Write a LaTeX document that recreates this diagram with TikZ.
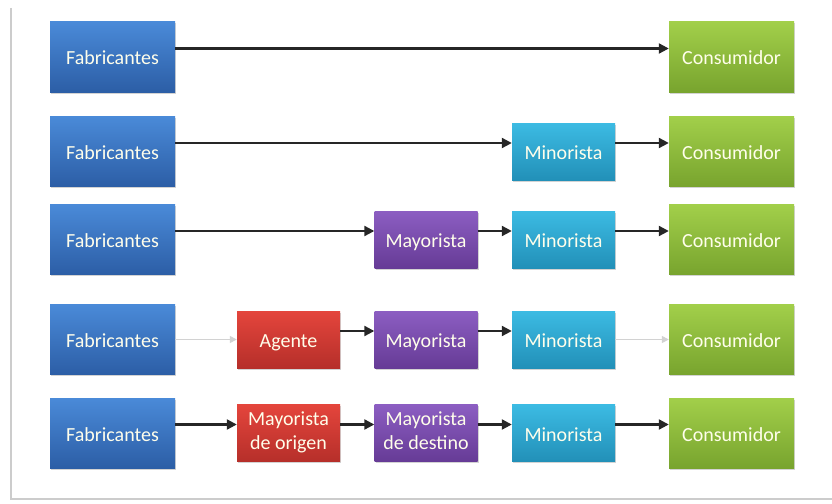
\documentclass[tikz,border=0pt]{standalone}
\usepackage{fontspec}
\setmainfont{Carlito}
\usetikzlibrary{shadows,arrows.meta}

\definecolor{azul1}{HTML}{4A8AD8}\definecolor{azul2}{HTML}{2C5EA6}
\definecolor{verde1}{HTML}{A2CF4A}\definecolor{verde2}{HTML}{78A42E}
\definecolor{celeste1}{HTML}{3CBBE3}\definecolor{celeste2}{HTML}{2290B8}
\definecolor{morado1}{HTML}{8C5EC2}\definecolor{morado2}{HTML}{663B96}
\definecolor{rojo1}{HTML}{E4453C}\definecolor{rojo2}{HTML}{B62F2A}

\begin{document}
\begin{tikzpicture}[x=1pt,y=-1pt,
    caja/.style={minimum width=125pt,minimum height=70pt,inner sep=0pt,
      align=center,text=white!92!yellow,
      font=\fontsize{20}{24}\selectfont,
      execute at begin node={\rule[-4pt]{0pt}{24pt}},
      execute at end node={\rule[-4pt]{0pt}{24pt}},
      drop shadow={opacity=0.35,shadow xshift=1pt,shadow yshift=-1.5pt}},
    chica/.style={caja,minimum width=103pt,minimum height=57pt},
    fab/.style={caja,top color=azul1,bottom color=azul2},
    cons/.style={caja,top color=verde1,bottom color=verde2},
    mino/.style={chica,top color=celeste1,bottom color=celeste2},
    mayo/.style={chica,top color=morado1,bottom color=morado2},
    agen/.style={chica,top color=rojo1,bottom color=rojo2},
    flecha/.style={-{Triangle[length=10pt,width=10pt]},line width=2.2pt,black!85},
    tenue/.style={-{Triangle[length=7pt,width=7pt]},line width=1.4pt,gray!35}]

  \useasboundingbox (0,0) rectangle (832,503);
  % marco
  \draw[gray!40,line width=1.2pt] (11,8) -- (11,499) -- (832,499);

  % fila 1
  \node[fab]  (f1) at (112.5,57) {Fabricantes};
  \node[cons] (c1) at (731.5,57) {Consumidor};
  \draw[flecha] ([yshift=8.5pt]f1.east) -- ([yshift=8.5pt]c1.west);

  % fila 2
  \node[fab]  (f2) at (112.5,151.5) {Fabricantes};
  \node[mino] (n2) at (563.5,151.5) {Minorista};
  \node[cons] (c2) at (731.5,151.5) {Consumidor};
  \draw[flecha] ([yshift=8.5pt]f2.east) -- ([yshift=8.5pt]n2.west);
  \draw[flecha] ([yshift=8.5pt]n2.east) -- ([yshift=8.5pt]c2.west);

  % fila 3
  \node[fab]  (f3) at (112.5,239.5) {Fabricantes};
  \node[mayo] (m3) at (426,239.5) {Mayorista};
  \node[mino] (n3) at (563.5,239.5) {Minorista};
  \node[cons] (c3) at (731.5,239.5) {Consumidor};
  \draw[flecha] ([yshift=8.5pt]f3.east) -- ([yshift=8.5pt]m3.west);
  \draw[flecha] ([yshift=8.5pt]m3.east) -- ([yshift=8.5pt]n3.west);
  \draw[flecha] ([yshift=8.5pt]n3.east) -- ([yshift=8.5pt]c3.west);

  % fila 4
  \node[fab]  (f4) at (112.5,339.5) {Fabricantes};
  \node[agen] (a4) at (288.5,339.5) {Agente};
  \node[mayo] (m4) at (426,339.5) {Mayorista};
  \node[mino] (n4) at (563.5,339.5) {Minorista};
  \node[cons] (c4) at (731.5,339.5) {Consumidor};
  \draw[tenue] (f4.east) -- (a4.west);
  \draw[flecha] ([yshift=8.5pt]a4.east) -- ([yshift=8.5pt]m4.west);
  \draw[flecha] ([yshift=8.5pt]m4.east) -- ([yshift=8.5pt]n4.west);
  \draw[tenue] (n4.east) -- (c4.west);

  % fila 5
  \node[fab]  (f5) at (112.5,433) {Fabricantes};
  \node[agen] (o5) at (288.5,433) {Mayorista\\de origen};
  \node[mayo] (d5) at (426,433) {Mayorista\\de destino};
  \node[mino] (n5) at (563.5,433) {Minorista};
  \node[cons] (c5) at (731.5,433) {Consumidor};
  \draw[flecha] ([yshift=8.5pt]f5.east) -- ([yshift=8.5pt]o5.west);
  \draw[flecha] ([yshift=8.5pt]o5.east) -- ([yshift=8.5pt]d5.west);
  \draw[flecha] ([yshift=8.5pt]d5.east) -- ([yshift=8.5pt]n5.west);
  \draw[flecha] ([yshift=8.5pt]n5.east) -- ([yshift=8.5pt]c5.west);
\end{tikzpicture}
\end{document}
